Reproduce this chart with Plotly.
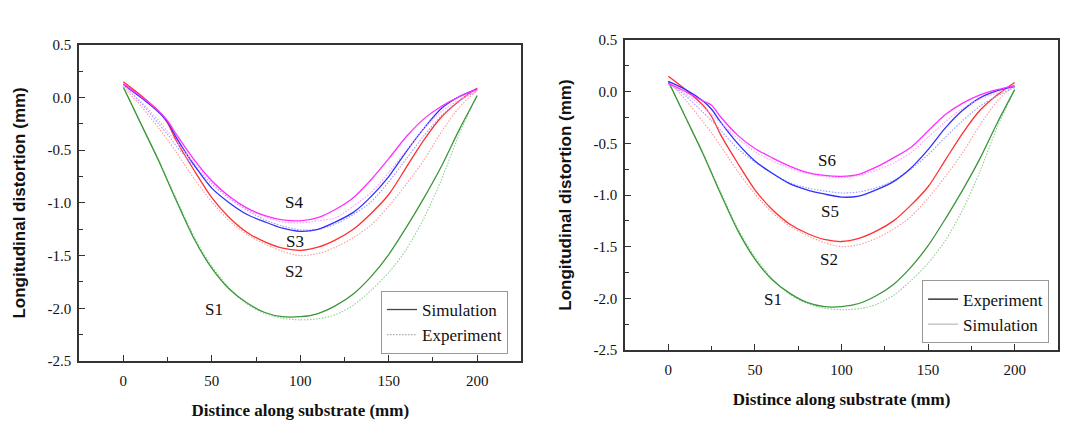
import plotly.graph_objects as go

# ---- data ----
x_mm = [0, 10, 20, 25, 30, 40, 50, 60, 70, 80, 90, 100, 110, 120, 130, 140, 150, 160, 170, 180, 190, 200]

# S1 and S2 curves (shared by both panels)
s1_line = [0.10, -0.25, -0.60, -0.79, -0.98, -1.34, -1.62, -1.82, -1.95, -2.04, -2.08, -2.08, -2.05, -1.975, -1.865, -1.70, -1.49, -1.23, -0.95, -0.645, -0.30, 0.02]
s1_dot = [0.10, -0.25, -0.59, -0.78, -0.96, -1.32, -1.60, -1.81, -1.96, -2.05, -2.095, -2.11, -2.10, -2.06, -1.97, -1.83, -1.66, -1.44, -1.14, -0.77, -0.34, 0.02]
s2_line = [0.15, 0.02, -0.13, -0.24, -0.41, -0.69, -0.95, -1.14, -1.28, -1.37, -1.43, -1.45, -1.42, -1.35, -1.25, -1.10, -0.92, -0.66, -0.40, -0.18, -0.03, 0.09]
s2_dot = [0.10, -0.08, -0.29, -0.40, -0.52, -0.77, -0.99, -1.17, -1.30, -1.39, -1.46, -1.50, -1.48, -1.42, -1.33, -1.21, -1.03, -0.82, -0.59, -0.32, -0.09, 0.07]

# left panel only
s3_line = [0.125, 0.0, -0.14, -0.23, -0.38, -0.64, -0.86, -1.00, -1.11, -1.18, -1.24, -1.27, -1.25, -1.18, -1.09, -0.94, -0.75, -0.51, -0.29, -0.10, 0.01, 0.08]
s3_dot = [0.12, -0.05, -0.25, -0.35, -0.46, -0.65, -0.82, -0.96, -1.07, -1.16, -1.22, -1.255, -1.25, -1.20, -1.11, -0.99, -0.80, -0.58, -0.36, -0.17, -0.03, 0.06]
s4_line = [0.13, 0.01, -0.13, -0.22, -0.35, -0.59, -0.79, -0.94, -1.05, -1.12, -1.16, -1.17, -1.14, -1.06, -0.95, -0.78, -0.58, -0.37, -0.20, -0.08, 0.01, 0.08]
s4_dot = [0.12, -0.04, -0.22, -0.32, -0.42, -0.62, -0.80, -0.95, -1.06, -1.13, -1.18, -1.19, -1.17, -1.14, -1.03, -0.90, -0.71, -0.50, -0.29, -0.13, -0.02, 0.07]

# right panel only
s5_line = [0.10, 0.02, -0.09, -0.17, -0.29, -0.50, -0.67, -0.79, -0.89, -0.95, -0.99, -1.02, -1.01, -0.95, -0.87, -0.74, -0.56, -0.35, -0.18, -0.06, 0.01, 0.05]
s5_dot = [0.08, -0.04, -0.20, -0.28, -0.37, -0.55, -0.68, -0.79, -0.88, -0.93, -0.96, -0.98, -0.97, -0.93, -0.86, -0.75, -0.61, -0.44, -0.28, -0.14, -0.04, 0.04]
s6_line = [0.08, 0.0, -0.09, -0.13, -0.24, -0.42, -0.55, -0.64, -0.72, -0.78, -0.81, -0.82, -0.80, -0.73, -0.64, -0.54, -0.38, -0.22, -0.11, -0.03, 0.02, 0.06]
s6_dot = [0.07, -0.02, -0.15, -0.22, -0.30, -0.45, -0.58, -0.67, -0.74, -0.79, -0.82, -0.83, -0.81, -0.76, -0.69, -0.59, -0.44, -0.29, -0.16, -0.07, -0.01, 0.05]

left_labels = ["S4", "S3", "S2", "S1"]
left_label_x = [96.7, 97.3, 96.7, 51.4]
left_label_y = [-1.0, -1.37, -1.655, -2.015]
right_labels = ["S6", "S5", "S2", "S1"]
right_label_x = [91.6, 93.2, 92.7, 60.4]
right_label_y = [-0.665, -1.163, -1.628, -2.016]

x_ticks = [0, 50, 100, 150, 200]
y_ticks = [0.5, 0.0, -0.5, -1.0, -1.5, -2.0, -2.5]
y_ticktext = ["0.5", "0.0", "-0.5", "-1.0", "-1.5", "-2.0", "-2.5"]

# ---- styles ----
GREEN, GREEN_P = "#3a963a", "#8fd08f"
RED, RED_P = "#ff3030", "#ff9a9a"
BLUE, BLUE_P = "#3030ff", "#9a9aff"
MAG, MAG_P = "#ff30ff", "#ff9aff"
SERIF = "Liberation Serif, Times New Roman, serif"
DOT = "1.5px,1.5px"

fig = go.Figure()

def add_pair(xa, ya, line_vals, dot_vals, c, cp):
    fig.add_trace(go.Scatter(x=x_mm, y=dot_vals, mode="lines", xaxis=xa, yaxis=ya,
                             line=dict(color=cp, width=1.1, dash=DOT, shape="spline", smoothing=0.8),
                             showlegend=False, hoverinfo="skip"))
    fig.add_trace(go.Scatter(x=x_mm, y=line_vals, mode="lines", xaxis=xa, yaxis=ya,
                             line=dict(color=c, width=1.3, shape="spline", smoothing=0.8),
                             showlegend=False, hoverinfo="skip"))

# left panel
add_pair("x", "y", s1_line, s1_dot, GREEN, GREEN_P)
add_pair("x", "y", s2_line, s2_dot, RED, RED_P)
add_pair("x", "y", s3_line, s3_dot, BLUE, BLUE_P)
add_pair("x", "y", s4_line, s4_dot, MAG, MAG_P)
# right panel
add_pair("x2", "y2", s1_line, s1_dot, GREEN, GREEN_P)
add_pair("x2", "y2", s2_line, s2_dot, RED, RED_P)
add_pair("x2", "y2", s5_line, s5_dot, BLUE, BLUE_P)
add_pair("x2", "y2", s6_line, s6_dot, MAG, MAG_P)

# legend entries
fig.add_trace(go.Scatter(x=[None], y=[None], mode="lines", name="Simulation", xaxis="x", yaxis="y",
                         line=dict(color="#444444", width=1.3), legend="legend"))
fig.add_trace(go.Scatter(x=[None], y=[None], mode="lines", name="Experiment", xaxis="x", yaxis="y",
                         line=dict(color="#aaaaaa", width=1.1, dash=DOT), legend="legend"))
fig.add_trace(go.Scatter(x=[None], y=[None], mode="lines", name="Experiment", xaxis="x2", yaxis="y2",
                         line=dict(color="#111111", width=1.3), legend="legend2"))
fig.add_trace(go.Scatter(x=[None], y=[None], mode="lines", name="Simulation", xaxis="x2", yaxis="y2",
                         line=dict(color="#aaaaaa", width=1.0), legend="legend2"))

for t, lx, ly in zip(left_labels, left_label_x, left_label_y):
    fig.add_annotation(x=lx, y=ly, xref="x", yref="y", text=t, showarrow=False,
                       font=dict(family=SERIF, size=17, color="#111"))
for t, lx, ly in zip(right_labels, right_label_x, right_label_y):
    fig.add_annotation(x=lx, y=ly, xref="x2", yref="y2", text=t, showarrow=False,
                       font=dict(family=SERIF, size=17, color="#111"))

def xax(domain, anchor):
    return dict(domain=domain, anchor=anchor, range=[-25, 225], tickvals=x_ticks,
                ticks="inside", ticklen=6, tickwidth=1, tickcolor="#333",
                minor=dict(tickvals=[25, 75, 125, 175], ticks="inside", ticklen=4, tickcolor="#333"),
                showline=True, linecolor="#333", linewidth=1.5, mirror=True,
                showgrid=False, zeroline=False, ticklabelstandoff=5,
                tickfont=dict(family=SERIF, size=15, color="#111"),
                title=dict(text="<b>Distince along substrate (mm)</b>", standoff=16,
                           font=dict(family=SERIF, size=17, color="#111")))

def yax(domain, anchor):
    return dict(domain=domain, anchor=anchor, range=[-2.5, 0.5], tickvals=y_ticks, ticktext=y_ticktext,
                ticks="inside", ticklen=6, tickwidth=1, tickcolor="#333",
                minor=dict(tickvals=[0.25, -0.25, -0.75, -1.25, -1.75, -2.25], ticks="inside", ticklen=4, tickcolor="#333"),
                showline=True, linecolor="#333", linewidth=1.5, mirror=True,
                showgrid=False, zeroline=False, ticklabelstandoff=3,
                tickfont=dict(family=SERIF, size=15, color="#111"),
                title=dict(text="<b>Longitudinal distortion (mm)</b>", standoff=18,
                           font=dict(family="Liberation Sans, Arial, sans-serif", size=17, color="#111")))

fig.update_layout(
    width=1081, height=427,
    margin=dict(l=0, r=0, t=0, b=0),
    paper_bgcolor="white", plot_bgcolor="white",
    font=dict(family=SERIF),
    xaxis=xax([0.0731, 0.4824], "y"),
    yaxis=yax([0.1412, 0.9103], "x"),
    xaxis2=xax([0.5782, 0.9787], "y2"),
    yaxis2=yax([0.1679, 0.922], "x2"),
    legend=dict(x=0.3525, y=0.3115, xanchor="left", yanchor="top", bordercolor="#999", borderwidth=1,
                bgcolor="white", font=dict(family=SERIF, size=17, color="#111"), itemwidth=30,
                tracegroupgap=0),
    legend2=dict(x=0.853, y=0.337, xanchor="left", yanchor="top", bordercolor="#999", borderwidth=1,
                 bgcolor="white", font=dict(family=SERIF, size=17, color="#111"), itemwidth=30,
                 tracegroupgap=0),
)

fig.write_html("out.html", config={"displayModeBar": False},
               post_script="document.body.style.margin='0px';document.body.style.overflow='hidden';")
